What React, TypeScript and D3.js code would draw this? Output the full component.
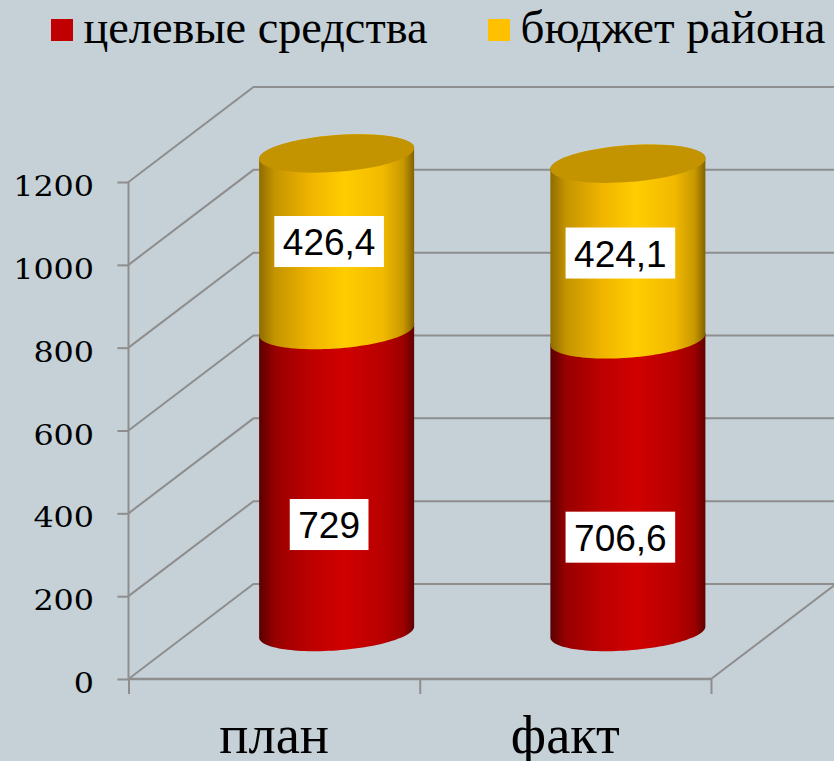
import React, { useEffect, useRef } from "react";
import * as d3 from "d3";

const categories = ["план", "факт"];
const targetFunds = [729, 706.6];
const districtBudget = [426.4, 424.1];
const targetLabels = ["729", "706,6"];
const budgetLabels = ["426,4", "424,1"];
const yTicks = [0, 200, 400, 600, 800, 1000, 1200];
const legendNames = ["целевые средства", "бюджет района"];

const BG = "#c5d0d7";
const GRID = "#8e8e8e";
const depthX = 125;
const depthY = 95;
const lift = 47;
const radiusX = 77.5;
const tilt = 5.5 / 77.5;
const radiusY = 18.4;

export default function App() {
  const svgRef = useRef<SVGSVGElement>(null);

  useEffect(() => {
    const svg = d3.select(svgRef.current);
    svg.selectAll("*").remove();

    const y = d3.scaleLinear().domain([0, 1200]).range([679, 182]);
    const x = d3.scaleBand().domain(categories).range([128.5, 711]);

    // gradients for the cylinder sides
    const defs = svg.append("defs");
    const addGradient = (id: string, stops: [number, string][]) => {
      const g = defs.append("linearGradient").attr("id", id);
      stops.forEach(([o, c]) =>
        g.append("stop").attr("offset", o).attr("stop-color", c)
      );
    };
    addGradient("redSide", [
      [0, "#5a0000"],
      [0.1, "#980000"],
      [0.33, "#bd0000"],
      [0.55, "#d00000"],
      [0.8, "#b80000"],
      [0.93, "#9c0000"],
      [1, "#5e0000"],
    ]);
    addGradient("yellowSide", [
      [0, "#8f6c00"],
      [0.1, "#c49400"],
      [0.33, "#f0b400"],
      [0.55, "#ffcd00"],
      [0.8, "#f2b900"],
      [0.93, "#c89800"],
      [1, "#826200"],
    ]);

    // back wall and floor
    const grid = svg.append("g").attr("fill", "none").attr("stroke", GRID).attr("stroke-width", 2);
    const gridPath = d3.path();
    yTicks.forEach((t) => {
      gridPath.moveTo(x.range()[0], y(t));
      gridPath.lineTo(x.range()[0] + depthX, y(t) - depthY);
      gridPath.lineTo(834, y(t) - depthY);
    });
    grid.append("path").attr("d", gridPath.toString());
    grid
      .append("line")
      .attr("x1", x.range()[1])
      .attr("y1", y(0))
      .attr("x2", x.range()[1] + depthX)
      .attr("y2", y(0) - depthY);

    // axes
    const axisY = svg
      .append("g")
      .attr("transform", `translate(${x.range()[0]},0)`)
      .call(d3.axisLeft(y).tickValues(yTicks).tickSize(11).tickFormat(() => ""));
    const axisX = svg
      .append("g")
      .attr("transform", `translate(0,${y(0)})`)
      .call(
        d3
          .axisBottom(d3.scaleLinear().domain([0, 2]).range(x.range()))
          .ticks(2)
          .tickSize(15)
          .tickFormat(() => "")
      );
    [axisY, axisX].forEach((a) => {
      a.selectAll("path").remove();
      a.selectAll("line").attr("stroke", GRID).attr("stroke-width", 2);
    });
    svg
      .append("line")
      .attr("x1", x.range()[0])
      .attr("x2", x.range()[0])
      .attr("y1", y(1200))
      .attr("y2", y(0))
      .attr("stroke", GRID)
      .attr("stroke-width", 2);
    svg
      .append("line")
      .attr("x1", x.range()[0])
      .attr("x2", x.range()[1])
      .attr("y1", y(0))
      .attr("y2", y(0))
      .attr("stroke", GRID)
      .attr("stroke-width", 2.5);

    // y tick labels
    svg
      .append("g")
      .selectAll("text")
      .data(yTicks)
      .join("text")
      .attr("x", 94)
      .attr("y", (d) => y(d) + 14)
      .attr("text-anchor", "end")
      .attr("font-family", "'DejaVu Serif'")
      .attr("font-size", 27)
      .attr("fill", "#000")
      .text((d) => d)
      .attr("textLength", (d) => String(d).length * 20.2)
      .attr("lengthAdjust", "spacingAndGlyphs");

    // cylinders
    const arcPoints = (cx: number, cy: number, from: number, to: number) =>
      d3.range(0, 61).map((i) => {
        const t = from + ((to - from) * i) / 60;
        const dx = radiusX * Math.cos(t);
        return [cx + dx, cy - tilt * dx + radiusY * Math.sin(t)] as [number, number];
      });
    const line = d3.line();

    categories.forEach((cat, i) => {
      const cx = x(cat)! + x.bandwidth() / 2 + depthX / 2;
      const baseY = y(0) - lift;
      const midY = y(targetFunds[i]) - lift;
      const topY = y(targetFunds[i] + districtBudget[i]) - lift;
      const g = svg.append("g");

      const side = (top: number, bottom: number, fill: string) =>
        g
          .append("path")
          .attr(
            "d",
            line([
              ...arcPoints(cx, top, Math.PI, 2 * Math.PI),
              ...arcPoints(cx, bottom, 0, Math.PI),
            ]) + "Z"
          )
          .attr("fill", fill);

      side(midY, baseY, "url(#redSide)");
      side(topY, midY, "url(#yellowSide)");
      g.append("path")
        .attr("d", line(arcPoints(cx, topY, 0, 2 * Math.PI)) + "Z")
        .attr("fill", "#c49400");
    });

    // value labels, hand placed like in the original chart
    const labelNudge = [
      { dx: -7.5, redDy: 43.5, yellowDy: -0.25 },
      { dx: -7.5, redDy: 51.5, yellowDy: 1.5 },
    ];
    const drawLabel = (text: string, lx: number, ly: number) => {
      const t = svg
        .append("text")
        .attr("x", lx)
        .attr("y", ly + 13.5)
        .attr("text-anchor", "middle")
        .attr("font-family", "'Liberation Sans'")
        .attr("font-size", 37)
        .attr("fill", "#000")
        .text(text);
      const w = (t.node() as SVGTextElement).getComputedTextLength();
      svg
        .insert("rect", () => t.node())
        .attr("x", lx - w / 2 - 8.5)
        .attr("y", ly - 25.5)
        .attr("width", w + 17)
        .attr("height", 51)
        .attr("fill", "#fff");
    };
    categories.forEach((cat, i) => {
      const cx = x(cat)! + x.bandwidth() / 2 + depthX / 2 + labelNudge[i].dx;
      const bottom = y(0) - lift;
      const mid = y(targetFunds[i]) - lift;
      const top = y(targetFunds[i] + districtBudget[i]) - lift;
      drawLabel(targetLabels[i], cx, (bottom + mid) / 2 + labelNudge[i].redDy);
      drawLabel(budgetLabels[i], cx, (mid + top) / 2 + labelNudge[i].yellowDy);
    });

    // category labels
    svg
      .append("g")
      .selectAll("text")
      .data(categories)
      .join("text")
      .attr("x", (d) => x(d)! + x.bandwidth() / 2)
      .attr("y", 753)
      .attr("text-anchor", "middle")
      .attr("font-family", "'Liberation Serif'")
      .attr("font-size", 54.5)
      .attr("fill", "#000")
      .text((d) => d);

    // legend
    const legend = svg.append("g");
    const legendX = [51, 488];
    const legendWidth = [344, 305];
    const legendColors = ["#c00000", "#ffc000"];
    legendNames.forEach((name, i) => {
      legend
        .append("rect")
        .attr("x", legendX[i])
        .attr("y", 19)
        .attr("width", 22)
        .attr("height", 22)
        .attr("fill", legendColors[i]);
      legend
        .append("text")
        .attr("x", legendX[i] + 32.5)
        .attr("y", 43)
        .attr("font-family", "'Liberation Serif'")
        .attr("font-size", 46.5)
        .attr("fill", "#000")
        .attr("textLength", legendWidth[i])
        .attr("lengthAdjust", "spacingAndGlyphs")
        .text(name);
    });
  }, []);

  return (
    <svg
      ref={svgRef}
      width={834}
      height={761}
      style={{ position: "absolute", left: 0, top: 0, display: "block", background: BG }}
    />
  );
}
